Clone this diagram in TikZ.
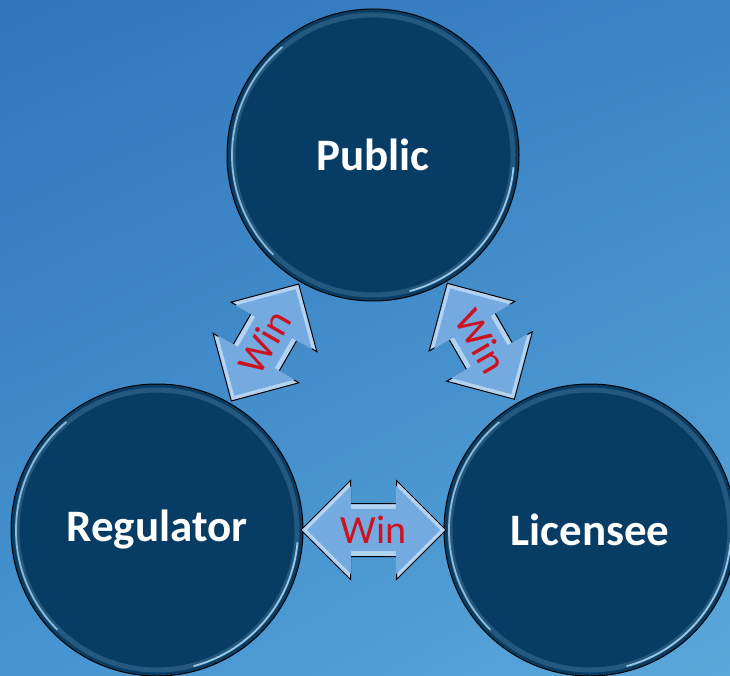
\documentclass[tikz,border=0pt]{standalone}
\usepackage{fontspec}
\setmainfont{Carlito}
\usetikzlibrary{shapes.arrows,shadings}
\definecolor{navy}{RGB}{7,60,100}
\definecolor{bgA}{RGB}{50,117,188}
\definecolor{bgB}{RGB}{58,132,198}
\definecolor{bgC}{RGB}{70,148,208}
\definecolor{bgD}{RGB}{90,168,218}
\definecolor{arrowmid}{RGB}{116,170,224}
\definecolor{arrowlight}{RGB}{178,212,242}
\definecolor{winred}{RGB}{204,18,32}
\definecolor{rim}{RGB}{175,220,248}
\tikzset{
  bubble/.style={circle, minimum size=292pt, inner sep=0pt, fill=navy, draw=black, line width=1pt,
    text=white, font=\bfseries\fontsize{45}{50}\selectfont,
    path picture={
      \draw[rim, opacity=.18, line width=5pt] (path picture bounding box.center) circle (140pt);
      \draw[rim, opacity=.75, line width=1.8pt] (path picture bounding box.center) ++(130:141pt) arc (130:225:141pt);
      \draw[rim, opacity=.85, line width=1.8pt] (path picture bounding box.center) ++(-5:141pt) arc (-5:-75:141pt);
    }},
  arrowbase/.style={double arrow, double arrow head extend=23pt, double arrow tip angle=90,
    text height=26pt, text depth=0pt, inner xsep=4pt},
  winframe/.style={arrowbase, draw=black, line width=1pt, fill=arrowlight,
    minimum width=98pt, inner ysep=13pt},
  winarrow/.style={arrowbase, fill=arrowmid, minimum width=88pt, inner ysep=8pt,
    text=winred, font=\fontsize{40}{44}\selectfont}
}
\begin{document}
\begin{tikzpicture}[x=1pt,y=-1pt]
\shade[upper left=bgA, upper right=bgB, lower left=bgC, lower right=bgD] (0,0) rectangle (730,676);
\useasboundingbox (0,0) rectangle (730,676);
\node[bubble] (pub) at (373,155) {Public};
\node[bubble] (reg) at (157,530) {Regulator};
\node[bubble] (lic) at (590,530) {Licensee};
\path (reg) -- node[winframe, sloped, minimum height=135pt] (f1) {}
  node[winarrow, sloped, minimum height=123pt] (w1) {Win} (pub);
\path (pub) -- node[winframe, sloped, minimum height=134pt, pos=0.49] (f2) {}
  node[winarrow, sloped, minimum height=122pt, pos=0.49] (w2) {Win} (lic);
\path (reg) -- node[winframe, sloped, minimum height=145pt] (f3) {}
  node[winarrow, sloped, minimum height=133pt] (w3) {Win} (lic);
\end{tikzpicture}
\end{document}
